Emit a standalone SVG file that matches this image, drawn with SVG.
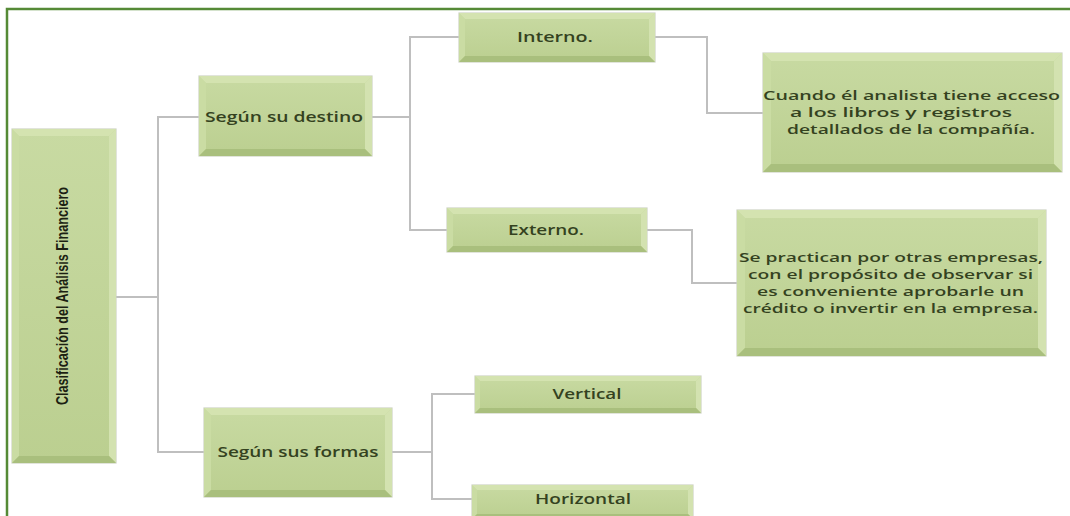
<svg xmlns="http://www.w3.org/2000/svg" width="1070" height="516" viewBox="0 0 1070 516">
<defs>
<linearGradient id="body" x1="0" y1="0" x2="0" y2="1">
<stop offset="0" stop-color="#c8daa2"/>
<stop offset="1" stop-color="#bbcf90"/>
</linearGradient>
<style>
.box{fill:url(#body);stroke:#cdd2c4;stroke-width:1.2}
.bt{fill:#d4e3b0}
.bl{fill:#cadca3}
.br{fill:#d3e2b0}
.bb{fill:#a9bf7d}
.lbl{font-family:"Open Sans","DejaVu Sans",sans-serif;font-weight:600;font-size:15px;fill:#34421f;text-anchor:middle}
.txt{font-family:"Open Sans","DejaVu Sans",sans-serif;font-weight:600;font-size:13px;fill:#34421f}
.root{font-family:"Liberation Sans",Arial,sans-serif;font-weight:bold;font-size:16px;fill:#1c1f12;text-anchor:middle}
.con{fill:none;stroke:#bfbfbf;stroke-width:2}
.frame{fill:none;stroke:#558a36;stroke-width:2.5}
</style>
</defs>
<rect x="0" y="0" width="1070" height="516" fill="#ffffff"/>
<path class="frame" d="M7,516 V9 H1070"/>

<g id="connectors">
<path class="con" d="M116,297 H158"/>
<path class="con" d="M199,117 H158 V452 H204"/>
<path class="con" d="M372,117 H410"/>
<path class="con" d="M459,37 H410 V230 H447"/>
<path class="con" d="M655,37 H707 V113 H763"/>
<path class="con" d="M647,230 H692 V283 H737"/>
<path class="con" d="M392,452 H432"/>
<path class="con" d="M475,394 H432 V499 H472"/>
</g>

<g id="n-root">
<rect class="box" x="12" y="129" width="104" height="334"/>
<polygon class="bt" points="12,129 116,129 109,136 19,136"/>
<polygon class="bl" points="12,129 19,136 19,456 12,463"/>
<polygon class="br" points="116,129 116,463 109,456 109,136"/>
<polygon class="bb" points="12,463 116,463 109,456 19,456"/>
<text class="root" transform="translate(68,296) rotate(-90)" textLength="218" lengthAdjust="spacingAndGlyphs">Clasificación del Análisis Financiero</text>
</g>

<g id="n-destino">
<rect class="box" x="199" y="76" width="173" height="80"/>
<polygon class="bt" points="199,76 372,76 365,83 206,83"/>
<polygon class="bl" points="199,76 206,83 206,149 199,156"/>
<polygon class="br" points="372,76 372,156 365,149 365,83"/>
<polygon class="bb" points="199,156 372,156 365,149 206,149"/>
<text class="lbl" x="284" y="122" textLength="158" lengthAdjust="spacingAndGlyphs">Según su destino</text>
</g>

<g id="n-formas">
<rect class="box" x="204" y="408" width="188" height="89"/>
<polygon class="bt" points="204,408 392,408 385,415 211,415"/>
<polygon class="bl" points="204,408 211,415 211,490 204,497"/>
<polygon class="br" points="392,408 392,497 385,490 385,415"/>
<polygon class="bb" points="204,497 392,497 385,490 211,490"/>
<text class="lbl" x="298" y="457" textLength="161" lengthAdjust="spacingAndGlyphs">Según sus formas</text>
</g>

<g id="n-interno">
<rect class="box" x="459" y="13" width="196" height="49"/>
<polygon class="bt" points="459,13 655,13 649,19 465,19"/>
<polygon class="bl" points="459,13 465,19 465,56 459,62"/>
<polygon class="br" points="655,13 655,62 649,56 649,19"/>
<polygon class="bb" points="459,62 655,62 649,56 465,56"/>
<text class="lbl" x="555" y="42" textLength="76" lengthAdjust="spacingAndGlyphs">Interno.</text>
</g>

<g id="n-externo">
<rect class="box" x="447" y="208" width="200" height="44"/>
<polygon class="bt" points="447,208 647,208 641,214 453,214"/>
<polygon class="bl" points="447,208 453,214 453,246 447,252"/>
<polygon class="br" points="647,208 647,252 641,246 641,214"/>
<polygon class="bb" points="447,252 647,252 641,246 453,246"/>
<text class="lbl" x="546" y="235" textLength="76" lengthAdjust="spacingAndGlyphs">Externo.</text>
</g>

<g id="n-cuando">
<rect class="box" x="763" y="53" width="299" height="119"/>
<polygon class="bt" points="763,53 1062,53 1054,61 771,61"/>
<polygon class="bl" points="763,53 771,61 771,164 763,172"/>
<polygon class="br" points="1062,53 1062,172 1054,164 1054,61"/>
<polygon class="bb" points="763,172 1062,172 1054,164 771,164"/>
<text class="txt" x="763" y="100" textLength="297" lengthAdjust="spacingAndGlyphs">Cuando él analista tiene acceso</text>
<text class="txt" x="790" y="117" textLength="222" lengthAdjust="spacingAndGlyphs">a los libros y registros</text>
<text class="txt" x="787" y="134" textLength="248" lengthAdjust="spacingAndGlyphs">detallados de la compañía.</text>
</g>

<g id="n-practican">
<rect class="box" x="737" y="210" width="309" height="146"/>
<polygon class="bt" points="737,210 1046,210 1038,218 745,218"/>
<polygon class="bl" points="737,210 745,218 745,348 737,356"/>
<polygon class="br" points="1046,210 1046,356 1038,348 1038,218"/>
<polygon class="bb" points="737,356 1046,356 1038,348 745,348"/>
<text class="txt" x="739" y="262" textLength="304" lengthAdjust="spacingAndGlyphs">Se practican por otras empresas,</text>
<text class="txt" x="748" y="279" textLength="285" lengthAdjust="spacingAndGlyphs">con el propósito de observar si</text>
<text class="txt" x="757" y="296" textLength="267" lengthAdjust="spacingAndGlyphs">es conveniente aprobarle un</text>
<text class="txt" x="743" y="313" textLength="295" lengthAdjust="spacingAndGlyphs">crédito o invertir en la empresa.</text>
</g>

<g id="n-vertical">
<rect class="box" x="475" y="376" width="226" height="37"/>
<polygon class="bt" points="475,376 701,376 696,381 480,381"/>
<polygon class="bl" points="475,376 480,381 480,408 475,413"/>
<polygon class="br" points="701,376 701,413 696,408 696,381"/>
<polygon class="bb" points="475,413 701,413 696,408 480,408"/>
<text class="lbl" x="587" y="399" textLength="69" lengthAdjust="spacingAndGlyphs">Vertical</text>
</g>

<g id="n-horizontal">
<rect class="box" x="472" y="485" width="221" height="34"/>
<polygon class="bt" points="472,485 693,485 688,490 477,490"/>
<polygon class="bl" points="472,485 477,490 477,514 472,519"/>
<polygon class="br" points="693,485 693,519 688,514 688,490"/>
<polygon class="bb" points="472,519 693,519 688,514 477,514"/>
<text class="lbl" x="583" y="504" textLength="96" lengthAdjust="spacingAndGlyphs">Horizontal</text>
</g>
</svg>
